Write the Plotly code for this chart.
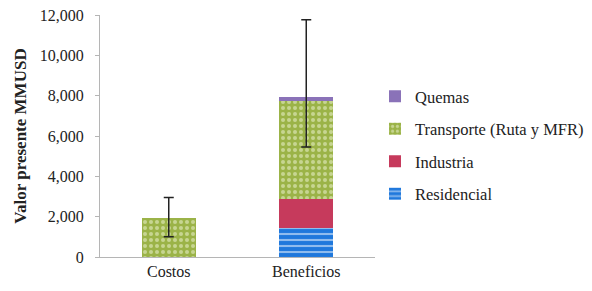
import plotly.graph_objects as go

categories = ["Costos", "Beneficios"]
residencial = [0, 1450]
industria = [0, 1430]
transporte = [1950, 4870]
quemas = [0, 170]
totals = [1950, 7920]
err_plus = [1000, 3840]
err_minus = [950, 2460]
y_ticks = [0, 2000, 4000, 6000, 8000, 10000, 12000]

font_family = "Liberation Serif, Times New Roman, serif"

fig = go.Figure()
fig.add_trace(go.Bar(
    x=categories, y=residencial, name="Residencial", legendgroup="r", legendrank=4,
    marker=dict(color="#1f78dc", line=dict(width=0),
                pattern=dict(shape="-", fgcolor="white", size=6, solidity=0.35)),
))
fig.add_trace(go.Bar(
    x=categories, y=industria, name="Industria", legendgroup="i", legendrank=3,
    marker=dict(color="#c63a5c", line=dict(width=0)),
))
fig.add_trace(go.Bar(
    x=categories, y=transporte, name="Transporte (Ruta y MFR)", legendgroup="t", legendrank=2,
    marker=dict(color="#9bb348", line=dict(width=0),
                pattern=dict(shape=".", fgcolor="#f4f7dc", size=6, solidity=0.35)),
))
fig.add_trace(go.Bar(
    x=categories, y=quemas, name="Quemas", legendgroup="q", legendrank=1,
    marker=dict(color="#8a72b8", line=dict(width=0)),
))
fig.add_trace(go.Scatter(
    x=categories, y=totals, mode="markers", showlegend=False,
    marker=dict(color="rgba(0,0,0,0)", size=1),
    error_y=dict(type="data", array=err_plus, arrayminus=err_minus,
                 color="#222222", thickness=1.5, width=5),
    hoverinfo="skip",
))

fig.update_layout(
    width=584, height=283,
    barmode="stack", bargap=0.61,
    margin=dict(l=92, r=217, t=7, b=34, autoexpand=False),
    paper_bgcolor="white", plot_bgcolor="white",
    font=dict(family=font_family, size=16, color="#222222"),
    showlegend=True,
    legend=dict(
        x=1.0, y=0.735, xanchor="left", yanchor="top",
        traceorder="grouped", tracegroupgap=8,
        font=dict(family=font_family, size=16.5, color="#222222"),
        itemwidth=30, bgcolor="rgba(0,0,0,0)",
    ),
    xaxis=dict(
        showline=True, linecolor="#b5b5b5", linewidth=1,
        ticks="", showgrid=False, automargin=False,
        tickfont=dict(family=font_family, size=16, color="#222222"),
    ),
    yaxis=dict(
        range=[0, 12000], tickvals=y_ticks, tickformat=",",
        showline=True, linecolor="#b5b5b5", linewidth=1,
        ticks="outside", ticklen=4, tickcolor="#b5b5b5",
        ticklabelstandoff=8, ticklabeloverflow="allow",
        showgrid=False, zeroline=False, automargin=False,
        tickfont=dict(family=font_family, size=16, color="#222222"),
        title=dict(text="<b>Valor presente MMUSD</b>",
                   font=dict(family=font_family, size=17, color="#222222"),
                   standoff=8),
    ),
)

fig.write_html("out.html")
